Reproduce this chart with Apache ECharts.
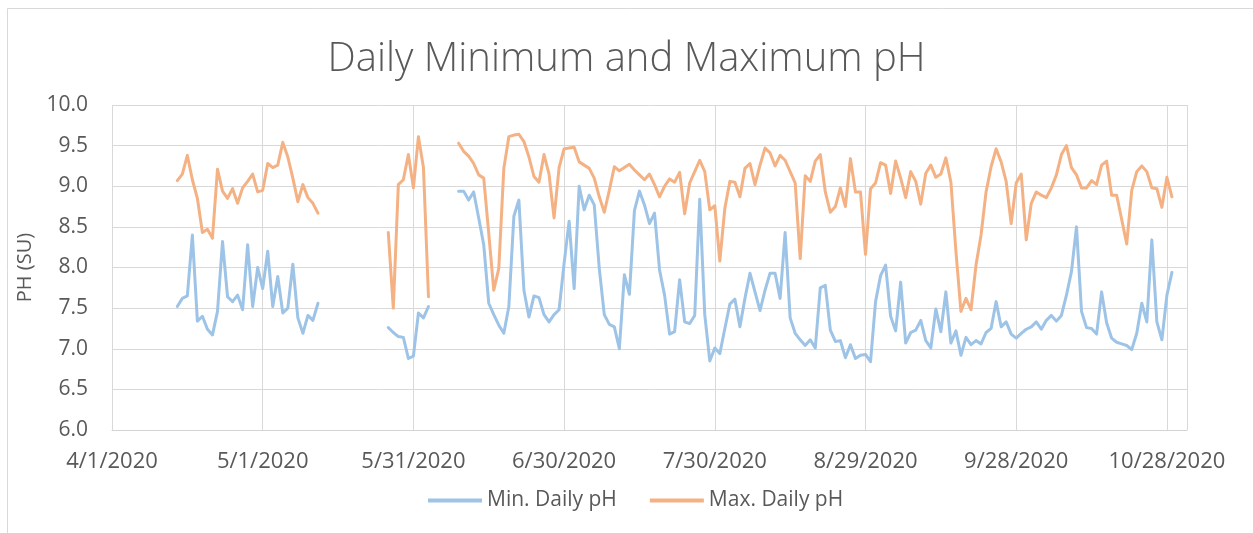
<!DOCTYPE html>
<html>
<head>
<meta charset="utf-8">
<script src="https://cdn.jsdelivr.net/npm/echarts@6/dist/echarts.min.js"></script>
<style>
html,body{margin:0;padding:0;background:#fff;}
#chart{width:1253px;height:533px;}
</style>
</head>
<body>
<div id="chart"></div>
<script>
// Day offsets are counted from 4/1/2020 (day 0)
const firstDay = 13; // 4/14/2020
const xTickLabels = ['4/1/2020','5/1/2020','5/31/2020','6/30/2020','7/30/2020','8/29/2020','9/28/2020','10/28/2020'];
const yTicks = [6.0, 6.5, 7.0, 7.5, 8.0, 8.5, 9.0, 9.5, 10.0];

const minPH = [
  7.52,7.62,7.65,8.40,7.34,7.40,7.24,7.17,7.46,8.32,7.64,7.58,7.66,7.48,8.28,7.52,8.00,7.74,8.20,7.52,7.89,7.44,7.50,8.04,7.38,7.19,7.41,7.35,7.56,
  null,null,null,null,null,null,null,null,null,null,null,null,null,
  7.26,7.20,7.15,7.14,6.88,6.91,7.44,7.38,7.52,
  null,null,null,null,null,
  8.94,8.94,8.83,8.93,8.61,8.28,7.56,7.42,7.29,7.19,7.52,8.63,8.83,7.72,7.39,
  7.65,7.63,7.42,7.33,7.42,7.48,8.05,8.57,7.74,9.00,8.71,8.89,8.77,7.99,7.42,7.30,7.27,7.00,7.91,7.67,8.70,8.94,8.77,8.54,8.67,7.97,7.66,7.18,7.21,
  7.85,7.33,7.31,7.41,8.84,7.42,6.85,7.01,6.94,7.25,7.55,7.61,7.27,7.62,7.93,7.70,7.47,7.72,7.93,7.93,7.62,8.43,7.38,7.19,7.11,7.04,7.11,7.01,
  7.75,7.78,7.23,7.09,7.10,6.89,7.05,6.88,6.92,6.93,6.84,7.58,7.90,8.03,7.40,7.22,7.82,7.07,7.20,7.23,7.35,7.10,7.01,7.49,7.21,7.70,7.07,7.22,
  6.92,7.14,7.05,7.10,7.06,7.20,7.25,7.58,7.27,7.33,7.18,7.13,7.19,7.24,7.27,7.33,7.24,7.35,7.41,7.34,7.41,7.66,7.95,8.50,7.46,7.26,7.25,7.18,
  7.70,7.32,7.13,7.08,7.06,7.04,6.99,7.19,7.56,7.33,8.34,7.33,7.11,7.66,7.94
];

const maxPH = [
  9.07,9.15,9.38,9.08,8.85,8.43,8.47,8.36,9.21,8.94,8.85,8.97,8.79,8.98,9.06,9.15,8.93,8.95,9.28,9.23,9.26,9.54,9.36,9.10,8.81,9.02,8.86,8.79,8.67,
  null,null,null,null,null,null,null,null,null,null,null,null,null,
  8.43,7.50,9.02,9.08,9.39,8.98,9.61,9.23,7.64,
  null,null,null,null,null,
  9.53,9.43,9.37,9.28,9.14,9.10,8.42,7.72,7.99,9.22,9.61,9.63,9.64,9.55,9.36,
  9.12,9.05,9.39,9.15,8.61,9.23,9.46,9.47,9.48,9.30,9.26,9.22,9.10,8.87,8.68,8.95,9.24,9.19,9.23,9.27,9.20,9.14,9.08,9.15,9.02,8.87,9.00,9.09,9.05,
  9.17,8.66,9.04,9.18,9.32,9.18,8.71,8.76,8.08,8.73,9.06,9.05,8.87,9.22,9.28,9.02,9.26,9.47,9.41,9.25,9.38,9.32,9.18,9.04,8.11,9.13,9.06,9.31,
  9.39,8.93,8.68,8.75,8.98,8.75,9.34,8.93,8.93,8.16,8.97,9.04,9.29,9.26,8.91,9.31,9.10,8.86,9.18,9.06,8.78,9.16,9.26,9.11,9.15,9.35,9.05,8.20,
  7.46,7.62,7.48,8.03,8.40,8.93,9.24,9.46,9.30,9.06,8.54,9.04,9.15,8.34,8.79,8.93,8.89,8.86,8.98,9.14,9.39,9.50,9.23,9.14,8.98,8.98,9.07,9.02,
  9.26,9.31,8.89,8.89,8.59,8.29,8.95,9.18,9.25,9.18,8.98,8.97,8.74,9.11,8.87
];

const seriesNames = ['Min. Daily pH', 'Max. Daily pH'];
const colors = ['#9DC3E6', '#F4B183'];

function toPairs(arr) {
  return arr.map((v, i) => [firstDay + i, v === null ? '-' : v]);
}

const FONT = '"Open Sans", "DejaVu Sans", sans-serif';
const chart = echarts.init(document.getElementById('chart'), null, {renderer: 'canvas'});
chart.setOption({
  animation: false,
  backgroundColor: '#ffffff',
  title: {
    text: 'Daily Minimum and Maximum pH',
    left: 'center',
    top: 35,
    textStyle: {fontFamily: FONT, fontSize: 40, fontWeight: 300, color: '#595959'}
  },
  graphic: [{
    type: 'rect',
    shape: {x: 7.5, y: 8.5, width: 1300, height: 700},
    style: {fill: 'none', stroke: '#d9d9d9', lineWidth: 1},
    silent: true
  }],
  legend: {
    data: seriesNames,
    left: 423,
    top: 485,
    icon: 'rect',
    itemWidth: 54,
    itemHeight: 4,
    itemGap: 33,
    textStyle: {fontFamily: FONT, fontSize: 21, color: '#595959'}
  },
  grid: {left: 112, right: 66, top: 105, bottom: 103, containLabel: false},
  xAxis: {
    type: 'value',
    min: 0,
    max: 214,
    interval: 30,
    axisLine: {show: true, lineStyle: {color: '#d4d4d4', width: 1}},
    axisTick: {show: false},
    splitLine: {show: true, lineStyle: {color: '#d9d9d9', width: 1}},
    axisLabel: {
      margin: 21,
      fontFamily: FONT, fontSize: 22, color: '#595959',
      formatter: function (v) { return v % 30 === 0 ? (xTickLabels[v / 30] || '') : ''; }
    }
  },
  yAxis: {
    type: 'value',
    min: yTicks[0],
    max: yTicks[yTicks.length - 1],
    interval: 0.5,
    name: 'PH (SU)',
    nameLocation: 'middle',
    nameRotate: 90,
    nameGap: 71,
    nameTextStyle: {fontFamily: FONT, fontSize: 20, color: '#595959'},
    axisLine: {show: false},
    axisTick: {show: false},
    splitLine: {show: true, lineStyle: {color: '#d9d9d9', width: 1}},
    axisLabel: {
      margin: 24,
      fontFamily: FONT, fontSize: 21, color: '#595959',
      formatter: function (v) { return v.toFixed(1); }
    }
  },
  series: [
    {
      name: seriesNames[0], type: 'line', data: toPairs(minPH),
      showSymbol: false, connectNulls: false,
      lineStyle: {color: colors[0], width: 3, cap: 'round', join: 'round'},
      itemStyle: {color: colors[0]}
    },
    {
      name: seriesNames[1], type: 'line', data: toPairs(maxPH),
      showSymbol: false, connectNulls: false,
      lineStyle: {color: colors[1], width: 3, cap: 'round', join: 'round'},
      itemStyle: {color: colors[1]}
    }
  ]
});
</script>
</body>
</html>
